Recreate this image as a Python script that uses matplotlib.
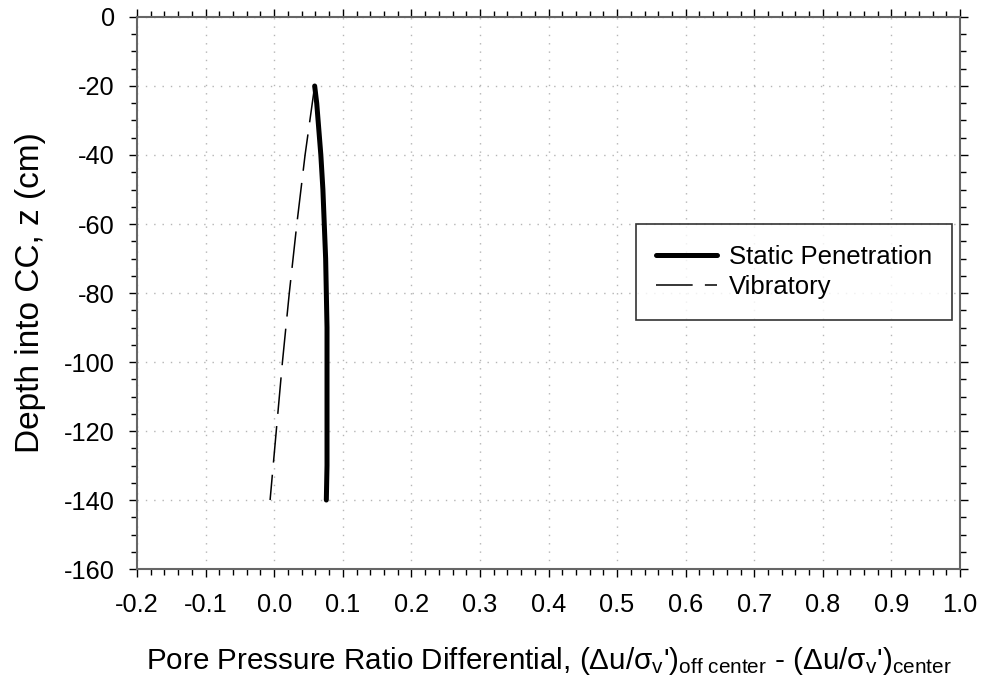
"""Pore pressure ratio differential versus depth into CC."""

import matplotlib as mpl

mpl.use("Agg")
import matplotlib.pyplot as plt
import matplotlib.ticker as mticker

mpl.rcParams["font.family"] = ["Liberation Sans", "DejaVu Sans"]
mpl.rcParams["mathtext.fontset"] = "custom"
mpl.rcParams["mathtext.rm"] = "Liberation Sans"
mpl.rcParams["mathtext.it"] = "Liberation Sans"

# Static penetration curve (depth in cm, differential)
STATIC_Z = [-20, -25, -30, -40, -50, -60, -70, -80, -90, -100, -110, -120, -130, -140]
STATIC_DU = [0.059, 0.062, 0.064, 0.068, 0.071, 0.073, 0.075, 0.076, 0.077, 0.077, 0.077, 0.077, 0.077, 0.076]

# Vibratory curve
VIB_Z = [-20, -40, -60, -80, -100, -120, -140]
VIB_DU = [0.059, 0.045, 0.033, 0.022, 0.012, 0.003, -0.006]

XLABEL = ("Pore Pressure Ratio Differential, (Δu/σ$_\\mathrm{v}$')$_\\mathrm{off\\ center}$"
          " - (Δu/σ$_\\mathrm{v}$')$_\\mathrm{center}$")
YLABEL = "Depth into CC, z (cm)"

fig = plt.figure(figsize=(9.81, 6.85), dpi=100)
ax = fig.add_axes([0.1397, 0.1693, 0.8389, 0.8059])

ax.plot(STATIC_DU, STATIC_Z, color="black", linewidth=3.6, solid_capstyle="round",
        label="Static Penetration", zorder=3)
ax.plot(VIB_DU, VIB_Z, color="black", linewidth=1.1, dashes=(24, 8),
        label="Vibratory", zorder=3)

ax.set_xlim(-0.2, 1.0)
ax.set_ylim(-160, 0)
ax.xaxis.set_major_locator(mticker.MultipleLocator(0.1))
ax.xaxis.set_minor_locator(mticker.MultipleLocator(0.02))
ax.yaxis.set_major_locator(mticker.MultipleLocator(20))
ax.yaxis.set_minor_locator(mticker.MultipleLocator(5))
ax.xaxis.set_major_formatter(mticker.FormatStrFormatter("%.1f"))
ax.yaxis.set_major_formatter(mticker.FuncFormatter(lambda v, p: f"{v:.0f}"))

ax.tick_params(which="both", direction="out", top=True, right=True, colors="black",
               labelsize=18.3)
ax.tick_params(which="major", length=6, width=1.0)
ax.tick_params(which="minor", length=4, width=1.0)
ax.tick_params(axis="x", which="major", pad=11.5)
ax.tick_params(axis="y", which="major", pad=10)
for side in ax.spines:
    ax.spines[side].set_color("#666666")
    ax.spines[side].set_linewidth(1.5)

ax.grid(which="major", color="#b5b5b5", linestyle=(0, (1, 5)), linewidth=1.0)
ax.set_axisbelow(True)

ax.set_xlabel(XLABEL, fontsize=21.3, labelpad=20)
ax.set_ylabel(YLABEL, fontsize=24, labelpad=13)

leg = ax.legend(loc="upper left", bbox_to_anchor=(0.606, 0.625), fontsize=18.5,
                frameon=True, fancybox=False, handlelength=2.35, handletextpad=0.46,
                borderpad=0.8, borderaxespad=0, labelspacing=0.25)
leg.get_frame().set_edgecolor("black")
leg.get_frame().set_linewidth(1.2)

fig.savefig("out.png", dpi=100)
